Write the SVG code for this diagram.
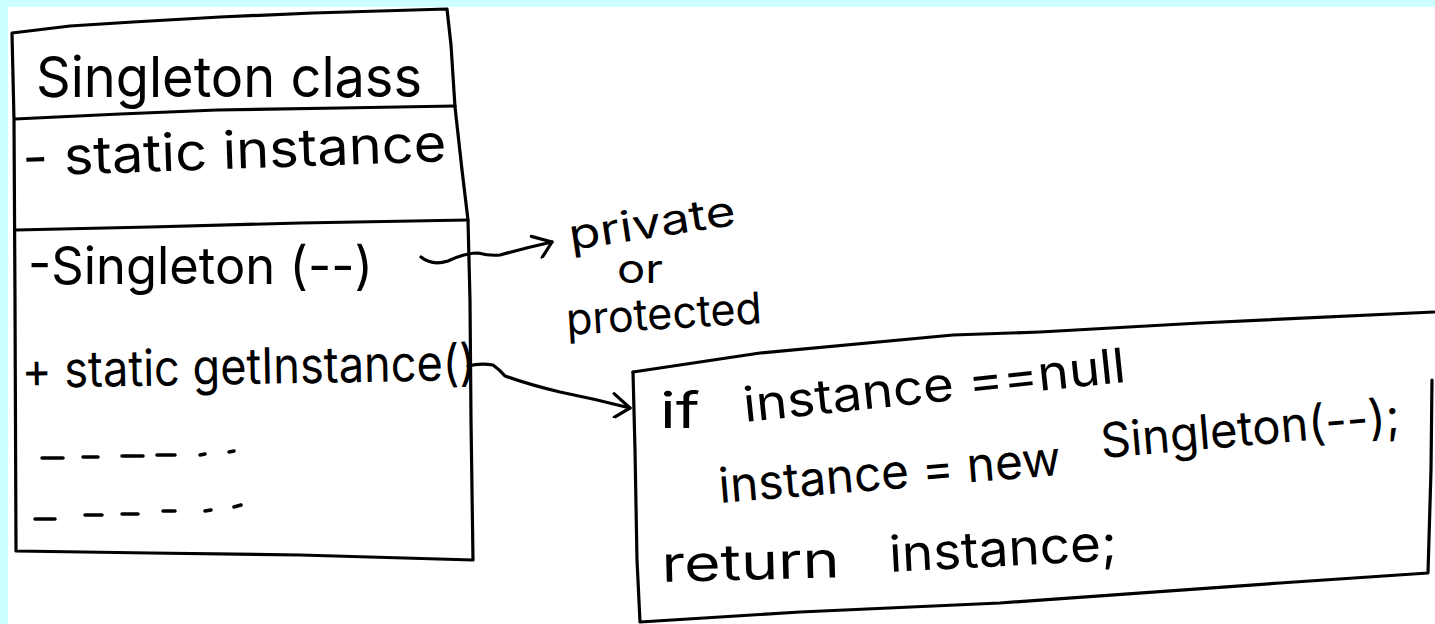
<svg xmlns="http://www.w3.org/2000/svg" width="1435" height="624" viewBox="0 0 1435 624">
  <defs>
    <style>
      .ink { fill: none; stroke: #000; stroke-width: 3.2; stroke-linecap: round; stroke-linejoin: round; }
      .dash { fill: none; stroke: #000; stroke-width: 3.5; stroke-linecap: round; }
      .hand { font-family: Inter, "Liberation Sans", "DejaVu Sans", sans-serif; font-weight: 400; fill: #000; }
    </style>
    <marker id="open-arrow" markerUnits="userSpaceOnUse" viewBox="-22 -14 26 28" refX="0" refY="0" markerWidth="26" markerHeight="28" orient="auto">
      <path d="M-19,-10 L0,0 L-13,13" fill="none" stroke="#000" stroke-width="3.2" stroke-linecap="round" stroke-linejoin="round"/>
    </marker>
  </defs>

  <!-- paper -->
  <rect x="0" y="0" width="1435" height="624" fill="#ccffff"/>
  <rect x="8" y="7" width="1427" height="617" fill="#ffffff"/>

  <!-- class card -->
  <g id="singleton-class">
    <path class="ink" d="M12,33 L70,26 L133,22 L220,17 L313,13 L447,9 L451,45 L455,107 L462,170 L468,220 L470,300 L471,420 L473,560 L300,555 L150,553 L16,551 L15,300 L14,120 L12,33 Z"/>
    <path class="ink" d="M15,119 L120,114 L217,110 L340,108 L455,106"/>
    <path class="ink" d="M16,230 L150,227 L300,223 L468,220"/>
    <text class="hand" x="36" y="97" font-size="56" textLength="386" lengthAdjust="spacingAndGlyphs">Singleton class</text>
    <text class="hand" transform="translate(23,176) rotate(-2)" font-size="52" textLength="424" lengthAdjust="spacingAndGlyphs">- static instance</text>
    <text class="hand" x="28" y="284" font-size="52" textLength="345" lengthAdjust="spacingAndGlyphs">-Singleton (--)</text>
    <text class="hand" transform="translate(22,388) rotate(-1)" font-size="50" textLength="454" lengthAdjust="spacingAndGlyphs">+ static getInstance()</text>
    <!-- placeholder member rows -->
    <path class="dash" d="M42,458 L63,458 M83,457 L98,457 M122,456 L143,456 M157,455 L175,455 M200,455 L205,454 M229,452 L234,451"/>
    <path class="dash" d="M35,519 L55,519 M85,515 L102,515 M122,514 L138,514 M163,511 L175,511 M205,511 L211,510 M234,507 L241,505"/>
  </g>

  <!-- visibility note -->
  <g id="visibility-note">
    <text class="hand" transform="translate(571,250) rotate(-8.6)" font-size="42" textLength="168" lengthAdjust="spacingAndGlyphs">private</text>
    <text class="hand" x="617" y="283" font-size="40" textLength="46" lengthAdjust="spacingAndGlyphs">or</text>
    <text class="hand" transform="translate(567,335) rotate(-3.5)" font-size="44" textLength="196" lengthAdjust="spacingAndGlyphs">protected</text>
  </g>

  <!-- getInstance body -->
  <g id="get-instance-body">
    <path class="ink" d="M633,372 L760,353 L953,335 L1040,332 L1200,323 L1434,312"/>
    <path class="ink" d="M1432,380 L1431,470 L1428,573 L1280,583 L1000,603 L800,612 L640,622 L637,560 L635,450 L633,372"/>
    <text class="hand" x="660" y="428" font-size="50" textLength="40" lengthAdjust="spacingAndGlyphs">if</text>
    <text class="hand" transform="translate(745,422) rotate(-6)" font-size="48" textLength="384" lengthAdjust="spacingAndGlyphs">instance ==null</text>
    <text class="hand" transform="translate(720,503) rotate(-4.7)" font-size="48" textLength="343" lengthAdjust="spacingAndGlyphs">instance = new</text>
    <text class="hand" transform="translate(1102,458) rotate(-4.9)" font-size="48" textLength="300" lengthAdjust="spacingAndGlyphs">Singleton(--);</text>
    <text class="hand" transform="translate(662,582) rotate(-1.5)" font-size="50" textLength="178" lengthAdjust="spacingAndGlyphs">return</text>
    <text class="hand" transform="translate(890,572) rotate(-3)" font-size="50" textLength="228" lengthAdjust="spacingAndGlyphs">instance;</text>
  </g>

  <!-- connectors -->
  <g id="connectors">
    <path class="ink" marker-end="url(#open-arrow)" d="M421,257 Q432,266 448,261 Q465,253 478,253 Q490,256 500,255 Q525,248 552,242"/>
    <path class="ink" marker-end="url(#open-arrow)" d="M468,366 Q480,363 493,365 Q500,370 505,376 Q530,385 560,392 Q595,399 630,408"/>
  </g>
</svg>
